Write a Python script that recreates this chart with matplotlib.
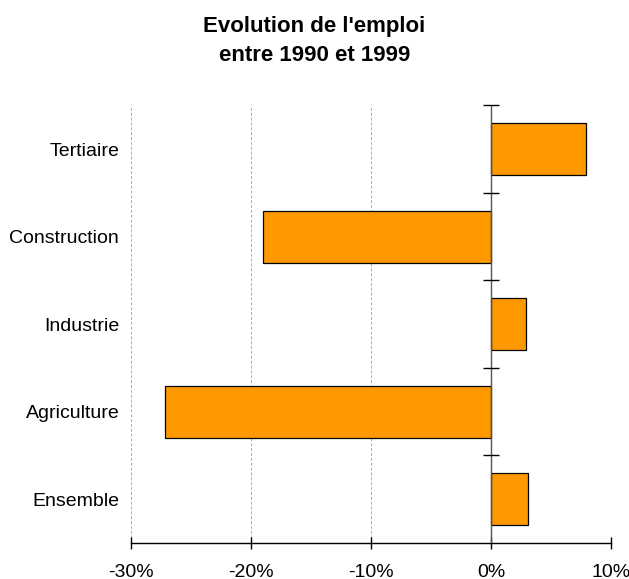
import numpy as np
import matplotlib.pyplot as plt
from matplotlib.ticker import FuncFormatter

plt.rcParams['font.family'] = ['Liberation Sans', 'DejaVu Sans']

secteurs = ['Ensemble', 'Agriculture', 'Industrie', 'Construction', 'Tertiaire']
evolution = [3.1, -27.2, 2.9, -19.0, 7.9]
x_ticks = [-30, -20, -10, 0, 10]

fig = plt.figure(figsize=(6.29, 5.79), dpi=100)
ax = fig.add_axes([0.2083, 0.0622, 0.763, 0.7556])

y = np.arange(len(secteurs))
ax.barh(y, evolution, height=0.59, color='#FF9900', edgecolor='black',
        linewidth=0.9, zorder=3)

ax.set_xlim(-30, 10)
ax.set_ylim(-0.5, len(secteurs) - 0.5)
ax.set_xticks(x_ticks)
ax.xaxis.set_major_formatter(FuncFormatter(lambda v, p: f'{v:.0f}%'))
ax.tick_params(axis='x', direction='inout', length=8.5, width=1, labelsize=14, pad=11)
ax.set_yticks(y)
ax.set_yticklabels(secteurs)
ax.tick_params(axis='y', length=0, labelsize=14, pad=8.5)

ax.grid(axis='x', color='#aaaaaa', linestyle=(0, (3, 2)), linewidth=0.7, zorder=0)

for s in ['left', 'right', 'top']:
    ax.spines[s].set_visible(False)
ax.spines['bottom'].set_linewidth(1)

# axe vertical a 0 avec graduations entre categories
ax.axvline(0, color='#555555', linewidth=1, zorder=4)
bornes = np.arange(len(secteurs)) + 0.5
ax.plot(np.zeros(len(bornes)), bornes, linestyle='none', marker='_',
        markersize=11, color='black', markeredgewidth=1, zorder=4, clip_on=False)

fig.suptitle("Evolution de l'emploi\nentre 1990 et 1999", fontsize=16,
             fontweight='bold', y=0.973, linespacing=1.5)

fig.savefig('out.png', dpi=100)
